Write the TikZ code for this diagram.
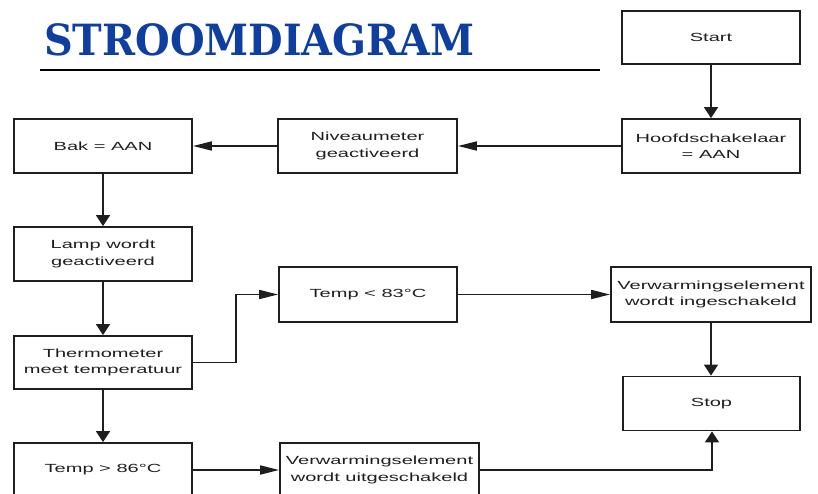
\documentclass[tikz,border=0pt]{standalone}
\usepackage{fontspec}
\setmainfont[FakeStretch=1.7]{Liberation Sans}
\newfontfamily\titlefont{DejaVu Serif}
\usetikzlibrary{arrows.meta}
\definecolor{titleblue}{RGB}{14,62,160}
\definecolor{boxline}{RGB}{30,30,30}
\definecolor{txt}{RGB}{30,30,30}
\begin{document}
\begin{tikzpicture}[x=1pt,y=-1pt,
 box/.style={draw=boxline, line width=1.8pt, minimum width=178pt, minimum height=54pt, inner sep=0pt, align=center, text=txt, font=\fontsize{11.8}{16.5}\selectfont},
 conn/.style={draw=boxline, line width=1.7pt},
 varr/.style={conn, -{Triangle[length=11pt,width=14pt]}},
 harr/.style={conn, -{Triangle[length=19pt,width=9pt]}}]
\useasboundingbox (0,0) rectangle (818,494);
\clip (0,0) rectangle (818,494);
\node[anchor=base west, inner sep=0pt, text=titleblue, font=\titlefont\bfseries\fontsize{43}{43}\selectfont] (title) at (44,56) {\scalebox{0.925}[1]{STROOMDIAGRAM}};
\coordinate (ul1) at (40,70);
\coordinate (ul2) at (600,70);
\draw[line width=2.2pt, black] (ul1) -- (ul2);

\node[box, minimum height=53pt] (start) at (711,37.5) {Start};
\node[box] (hoof) at (711,146) {Hoofdschakelaar\\= AAN};
\node[box, minimum width=179pt] (niv) at (367.5,146) {Niveaumeter\\geactiveerd};
\node[box] (bak) at (103,146) {Bak = AAN};
\node[box] (lamp) at (103,254) {Lamp wordt\\geactiveerd};
\node[box, minimum height=53pt] (thermo) at (103,362.5) {Thermometer\\meet temperatuur};
\node[box, minimum height=55pt] (t83) at (368,294.5) {Temp < 83°C};
\node[box, minimum width=200pt, minimum height=55pt] (vin) at (711,294.5) {Verwarmingselement\\wordt ingeschakeld};
\node[box, minimum width=177pt] (stop) at (711.5,403.5) {Stop};
\node[box] (t86) at (103,470) {Temp > 86°C};
\node[box, minimum width=199pt] (vuit) at (379.5,470) {Verwarmingselement\\wordt uitgeschakeld};

\draw[varr] (start) -- (hoof);
\draw[harr] (hoof) -- (niv);
\draw[harr] (niv) -- (bak);
\draw[varr] (bak) -- (lamp);
\draw[varr] (lamp) -- (thermo);
\draw[varr] (thermo) -- (t86);
\draw[harr] (thermo.east) -- ([xshift=43pt]thermo.east) |- (t83.west);
\draw[harr] (t83) -- (vin);
\draw[varr] (vin) -- ([xshift=-0.5pt]stop.north);
\draw[harr] (t86) -- (vuit);
\draw[varr] (vuit.east) -| ([xshift=0.5pt]stop.south);
\end{tikzpicture}
\end{document}
